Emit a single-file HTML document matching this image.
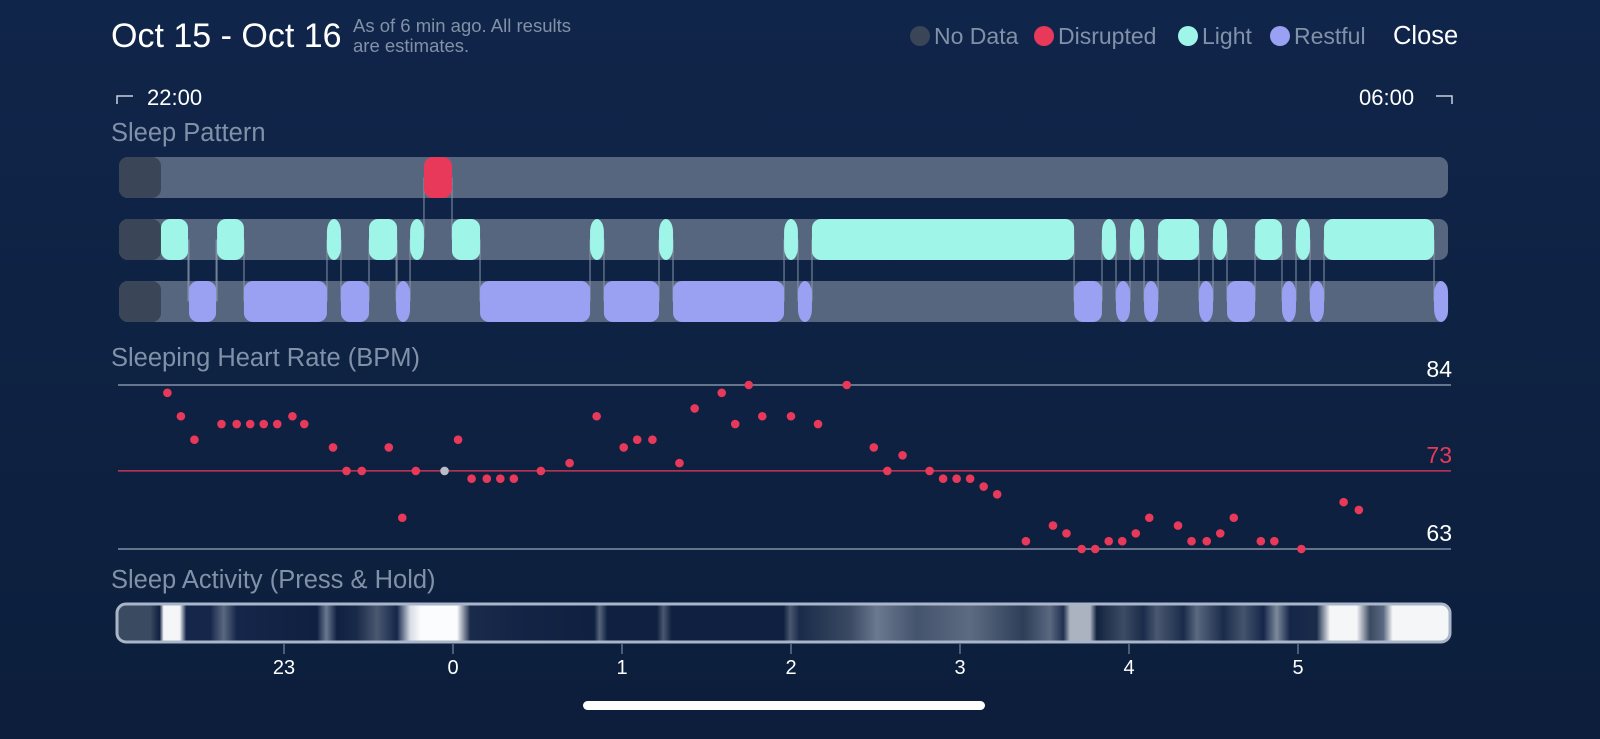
<!DOCTYPE html>
<html><head><meta charset="utf-8">
<style>
html,body{margin:0;padding:0;background:#0e213f;}
svg{display:block;font-family:"Liberation Sans",sans-serif;}
</style></head>
<body>
<svg id="chart" width="1600" height="739" viewBox="0 0 1600 739">
<defs>
<linearGradient id="bg" x1="0" y1="0" x2="0" y2="1"><stop offset="0" stop-color="#10254a"/><stop offset="1" stop-color="#0c1e3b"/></linearGradient>
<linearGradient id="act" x1="0" y1="0" x2="1" y2="0">
<stop offset="0" stop-color="#3a4a60"/><stop offset="0.025" stop-color="#3a4a60"/>
<stop offset="0.032" stop-color="#0f2040"/><stop offset="0.035" stop-color="#f4f6f8"/><stop offset="0.047" stop-color="#f4f6f8"/><stop offset="0.052" stop-color="#15264a"/>
<stop offset="0.07" stop-color="#15264a"/><stop offset="0.08" stop-color="#5a6880"/><stop offset="0.09" stop-color="#15264a"/>
<stop offset="0.15" stop-color="#0f2040"/><stop offset="0.157" stop-color="#6a7890"/><stop offset="0.165" stop-color="#0f2040"/>
<stop offset="0.18" stop-color="#1a2b4a"/><stop offset="0.195" stop-color="#4a5870"/><stop offset="0.21" stop-color="#15264a"/>
<stop offset="0.22" stop-color="#d8dde5"/><stop offset="0.228" stop-color="#fbfcfd"/><stop offset="0.255" stop-color="#fbfcfd"/><stop offset="0.265" stop-color="#1a2b4a"/>
<stop offset="0.3" stop-color="#132446"/><stop offset="0.358" stop-color="#0f2040"/><stop offset="0.362" stop-color="#56657c"/><stop offset="0.368" stop-color="#0f2040"/>
<stop offset="0.405" stop-color="#0f2040"/><stop offset="0.41" stop-color="#4a5870"/><stop offset="0.416" stop-color="#0f2040"/>
<stop offset="0.5" stop-color="#0f2040"/><stop offset="0.505" stop-color="#4a5870"/><stop offset="0.512" stop-color="#1a2b4a"/>
<stop offset="0.55" stop-color="#3a4a62"/><stop offset="0.57" stop-color="#6a7890"/><stop offset="0.6" stop-color="#44546c"/><stop offset="0.64" stop-color="#5d6b82"/><stop offset="0.68" stop-color="#2e3e58"/><stop offset="0.7" stop-color="#5a6880"/><stop offset="0.71" stop-color="#1f3050"/>
<stop offset="0.715" stop-color="#aab3bf"/><stop offset="0.73" stop-color="#aab3bf"/><stop offset="0.735" stop-color="#12233f"/>
<stop offset="0.755" stop-color="#3d4c64"/><stop offset="0.77" stop-color="#1a2b4a"/><stop offset="0.78" stop-color="#4a5870"/><stop offset="0.8" stop-color="#1a2b4a"/><stop offset="0.81" stop-color="#5a6880"/><stop offset="0.83" stop-color="#1a2b4a"/><stop offset="0.845" stop-color="#44546c"/><stop offset="0.86" stop-color="#15264a"/>
<stop offset="0.87" stop-color="#7d8a9c"/><stop offset="0.88" stop-color="#15264a"/><stop offset="0.9" stop-color="#1a2b4a"/>
<stop offset="0.91" stop-color="#f4f6f8"/><stop offset="0.93" stop-color="#f4f6f8"/><stop offset="0.94" stop-color="#3a4a60"/><stop offset="0.95" stop-color="#5a6880"/>
<stop offset="0.957" stop-color="#f4f6f8"/><stop offset="1" stop-color="#f4f6f8"/>
</linearGradient>
</defs>
<rect width="1600" height="739" fill="url(#bg)"/>

<text x="111" y="47" font-size="34" fill="#ffffff">Oct 15 - Oct 16</text>
<text x="353" y="32" font-size="18.5" fill="#8191a8">As of 6 min ago. All results</text>
<text x="353" y="52" font-size="18.5" fill="#8191a8">are estimates.</text>

<g>
<circle cx="920" cy="36" r="10" fill="#3a4658"/>
<text x="934" y="44" font-size="23" fill="#8191a8">No Data</text>
<circle cx="1044" cy="36" r="10" fill="#e8395a"/>
<text x="1058" y="44" font-size="23" fill="#8191a8">Disrupted</text>
<circle cx="1188" cy="36" r="10" fill="#9ef5e8"/>
<text x="1202" y="44" font-size="23" fill="#8191a8">Light</text>
<circle cx="1280" cy="36" r="10" fill="#9aa0f2"/>
<text x="1294" y="44" font-size="23" fill="#8191a8">Restful</text>
</g>
<text x="1393" y="44" font-size="25.5" fill="#ffffff">Close</text>

<path d="M117 104 V96 H133" stroke="#c8d0dc" stroke-width="1.5" fill="none"/>
<text x="147" y="105" font-size="22" fill="#ffffff">22:00</text>
<text x="1359" y="105" font-size="22" fill="#ffffff">06:00</text>
<path d="M1436 96 H1452 V104" stroke="#c8d0dc" stroke-width="1.5" fill="none"/>

<text x="111" y="141" font-size="25.5" fill="#8191a8">Sleep Pattern</text>
<g id="pattern"></g>

<text x="111" y="366" font-size="25.5" fill="#8191a8">Sleeping Heart Rate (BPM)</text>
<g id="hr"></g>

<text x="111" y="588" font-size="25.5" fill="#8191a8">Sleep Activity (Press &amp; Hold)</text>
<rect x="117" y="604" width="1333" height="38" rx="9" fill="url(#act)" stroke="#a9b5c9" stroke-width="3"/>
<g id="xaxis"></g>

<rect x="583" y="701" width="402" height="9" rx="4.5" fill="#ffffff"/>
</svg>
<script>
const hourTicks = [-1, 0, 1, 2, 3, 4, 5];
const hourLabels = ["23", "0", "1", "2", "3", "4", "5"];
const disruptedSegs = [[-0.172, -0.006]];
const lightSegs = [[-1.728,-1.568],[-1.396,-1.237],[-0.746,-0.663],[-0.497,-0.331],[-0.254,-0.172],[-0.006,0.160],[0.811,0.893],[1.219,1.302],[1.959,2.041],[2.124,3.675],[3.840,3.923],[4.006,4.089],[4.172,4.414],[4.497,4.580],[4.746,4.905],[4.988,5.071],[5.154,5.805]];
const restfulSegs = [[-1.562,-1.402],[-1.237,-0.746],[-0.663,-0.497],[-0.337,-0.254],[0.160,0.811],[0.893,1.219],[1.302,1.959],[2.041,2.124],[3.675,3.840],[3.923,4.006],[4.089,4.172],[4.414,4.497],[4.580,4.746],[4.905,4.988],[5.071,5.154],[5.805,5.888]];
const hrTimes = [-1.69,-1.61,-1.53,-1.37,-1.28,-1.20,-1.12,-1.04,-0.95,-0.88,-0.71,-0.63,-0.54,-0.38,-0.30,-0.22,-0.05,0.03,0.11,0.20,0.28,0.36,0.52,0.69,0.85,1.01,1.09,1.18,1.34,1.43,1.59,1.67,1.75,1.83,2.00,2.16,2.33,2.49,2.57,2.66,2.82,2.90,2.98,3.06,3.14,3.22,3.39,3.55,3.63,3.72,3.80,3.88,3.96,4.04,4.12,4.29,4.37,4.46,4.54,4.62,4.78,4.86,5.02,5.27,5.36];
const hrValues = [83,80,77,79,79,79,79,79,80,79,76,73,73,76,67,73,73,77,72,72,72,72,73,74,80,76,77,77,74,81,83,79,84,80,80,79,84,76,73,75,73,72,72,72,71,70,64,66,65,63,63,64,64,65,67,66,64,64,65,67,64,64,63,69,68];
const hrGrey = [16];
const hrGuides = [84, 73, 63];

const NS = "http://www.w3.org/2000/svg";
const X = h => 453 + 169 * h;
const Y = v => 549 - (v - 63) * (164 / 21);
function mk(tag, attrs, parent) { const e = document.createElementNS(NS, tag); for (const k in attrs) e.setAttribute(k, attrs[k]); parent.appendChild(e); return e; }

const pg = document.getElementById("pattern");
const rows = [157, 219, 281], rh = 41, x0 = 119, x1 = 1448;
rows.forEach((ry, i) => {
  const t = mk("rect", {x: x0, y: ry, width: x1 - x0, height: rh, rx: 9, fill: "#56667e"}, pg);
  
  
  const c = mk("rect", {x: x0, y: ry, width: 42, height: rh, rx: 9, fill: "#3a4658"}, pg);
  
  
});
const groups = [[disruptedSegs, 0, "#e8395a", "disrupted-segment"], [lightSegs, 1, "#9ef5e8", "light-segment"], [restfulSegs, 2, "#9aa0f2", "restful-segment"]];
groups.forEach(([segs, r]) => {
  segs.forEach(s => {
    s.forEach(b => {
      [r - 1, r + 1].forEach(o => {
        if (o < 0 || o > 2) return;
        const other = groups[o][0];
        if (other.some(q => Math.abs(q[0] - b) < 0.02 || Math.abs(q[1] - b) < 0.02)) {
          const ya = Math.min(rows[r], rows[o]) + rh / 2, yb = Math.max(rows[r], rows[o]) + rh / 2;
          const l = mk("line", {x1: X(b), x2: X(b), y1: ya, y2: yb, stroke: "#8e9bb0", "stroke-width": 0.8}, pg);
          
          
        }
      });
    });
  });
});
groups.forEach(([segs, r, col, name]) => {
  segs.forEach(s => {
    const w = X(s[1]) - X(s[0]);
    const e = mk("rect", {x: X(s[0]), y: rows[r], width: w, height: rh, rx: Math.min(w / 2, 9), ry: Math.min(w/2 > 9 ? 9 : 13, 13), fill: col}, pg);
    
    
  });
});

const hg = document.getElementById("hr");
hrGuides.forEach((v, i) => {
  const col = v === 73 ? "#e8395a" : "#9aa6b8";
  const l = mk("line", {x1: 118, x2: 1451, y1: Y(v), y2: Y(v), stroke: col, "stroke-width": 1.2}, hg);
  
  
  const t = mk("text", {x: 1452, y: Y(v) - 8, "font-size": 23, "text-anchor": "end", fill: v === 73 ? "#e8395a" : "#ffffff"}, hg);
  t.textContent = v;
  
  
});
hrTimes.forEach((t, i) => {
  const c = mk("circle", {cx: X(t), cy: Y(hrValues[i]), r: 4.3, fill: hrGrey.includes(i) ? "#b8bec8" : "#e8395a"}, hg);
  
  
});

const xg = document.getElementById("xaxis");
hourTicks.forEach((h, i) => {
  const l = mk("line", {x1: X(h), x2: X(h), y1: 644, y2: 654, stroke: "#8e9bb0", "stroke-width": 1}, xg);
  
  
  const t = mk("text", {x: X(h), y: 674, "font-size": 20, "text-anchor": "middle", fill: "#ffffff"}, xg);
  t.textContent = hourLabels[i];
  
  
});
</script>
</body></html>
